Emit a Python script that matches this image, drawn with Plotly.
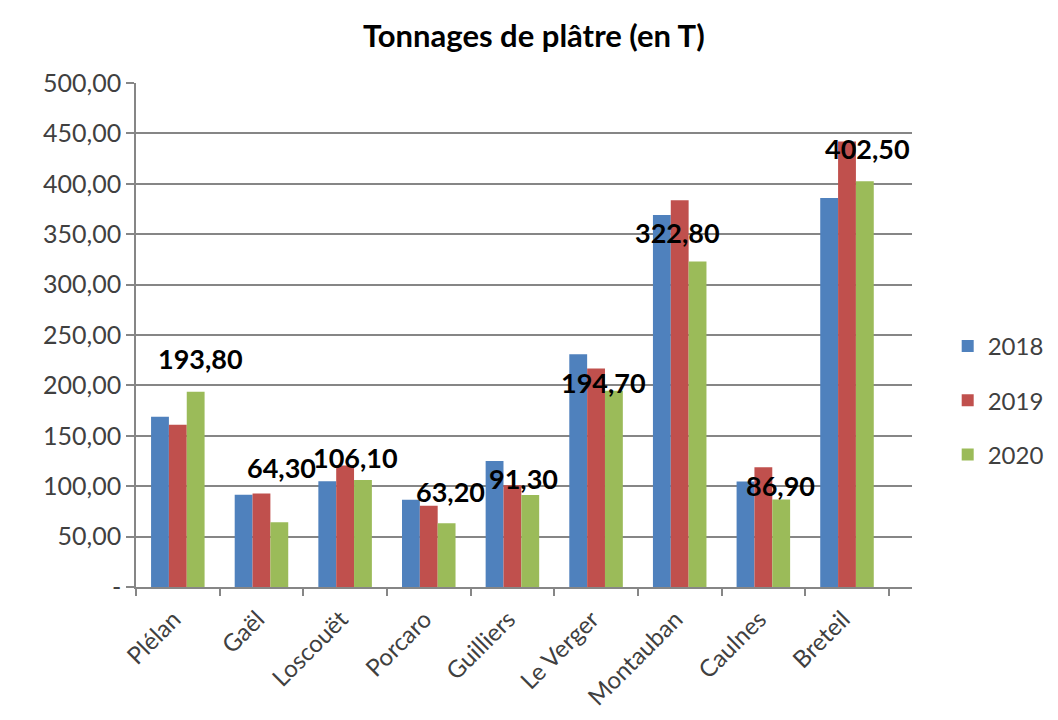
import plotly.graph_objects as go

categories = ["Plélan", "Gaël", "Loscouët", "Porcaro", "Guilliers", "Le Verger", "Montauban", "Caulnes", "Breteil"]
v2018 = [169.0, 91.5, 105.0, 86.5, 125.0, 231.0, 369.0, 104.6, 386.0]
v2019 = [161.0, 92.8, 120.5, 80.6, 101.0, 216.8, 383.6, 118.8, 442.0]
v2020 = [193.8, 64.3, 106.1, 63.2, 91.3, 194.7, 322.8, 86.9, 402.5]
series_names = ["2018", "2019", "2020"]
ytick_values = [0, 50, 100, 150, 200, 250, 300, 350, 400, 450, 500]
ytick_labels = ["-", "50,00", "100,00", "150,00", "200,00", "250,00", "300,00",
                "350,00", "400,00", "450,00", "500,00"]
label_texts = ["193,80", "64,30", "106,10", "63,20", "91,30", "194,70", "322,80", "86,90", "402,50"]

# styling (pixel offsets of the 2020 value labels, as placed in the reference)
colors = ["#4F81BD", "#C0504D", "#9BBB59"]
label_dx = [4, 2, -8, 3, -7, -11, -21, -1, 2]
label_dy = [33, 55, 23, 32, 16, 8, 29, 14, 33]
FONT = "Lato"

fig = go.Figure()
for name, vals, col in zip(series_names, [v2018, v2019, v2020], colors):
    fig.add_trace(go.Bar(
        x=categories, y=vals, name=name, marker=dict(color=col, line=dict(width=0)),
        legendgroup=name,
    ))

annotations = []
for cat, val, txt, dx, dy in zip(categories, v2020, label_texts, label_dx, label_dy):
    annotations.append(dict(
        x=cat, y=val, xref="x", yref="y", text="<b>%s</b>" % txt, showarrow=False,
        xshift=18.5 + dx, yshift=dy, xanchor="center", yanchor="middle",
        font=dict(family=FONT, size=27, color="#000000"),
    ))

fig.update_layout(
    width=1058, height=720,
    paper_bgcolor="white", plot_bgcolor="white",
    margin=dict(l=128, r=154, t=75, b=141, pad=0, autoexpand=False),
    barmode="group", bargap=0.36, bargroupgap=0,
    title=dict(text="<b>Tonnages de plâtre (en T)</b>", x=0.497, xanchor="center",
               y=0.961, yanchor="middle", font=dict(family=FONT, size=31, color="#000000")),
    font=dict(family=FONT, size=24, color="#404040"),
    legend=dict(x=1.046, xanchor="left", y=0.37, yanchor="middle",
                font=dict(family=FONT, size=24, color="#404040"),
                tracegroupgap=20, itemwidth=30, bgcolor="rgba(0,0,0,0)"),
    annotations=annotations,
    showlegend=True,
)
fig.update_xaxes(
    type="category", showgrid=False, showline=True, linecolor="#868686", linewidth=1.5,
    ticks="outside", tickson="boundaries", ticklen=7, tickcolor="#868686", tickwidth=1.5,
    tickangle=-45, tickfont=dict(family=FONT, size=24, color="#404040"),
    ticklabelstandoff=7, ticklabelshift=-4,
)
fig.update_yaxes(
    range=[0, 500], tickvals=ytick_values, ticktext=ytick_labels,
    showgrid=True, gridcolor="#868686", gridwidth=1.5,
    showline=True, linecolor="#868686", linewidth=1.5,
    ticks="outside", ticklen=8, tickcolor="#868686", tickwidth=1.5,
    tickfont=dict(family=FONT, size=25, color="#404040"), zeroline=False,
)

fig.write_html("out.html")
